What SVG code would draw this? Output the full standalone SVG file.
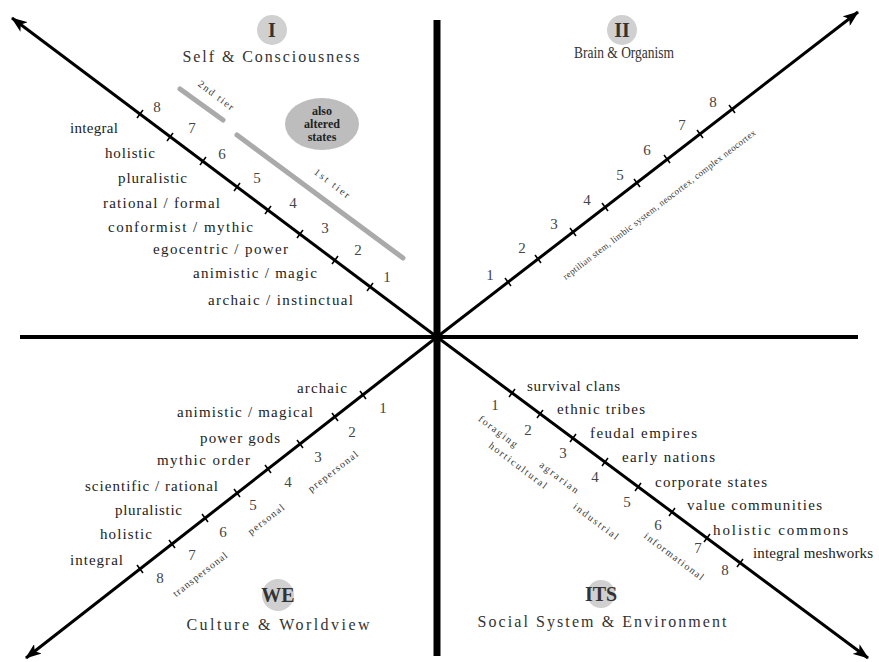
<svg xmlns="http://www.w3.org/2000/svg" width="879" height="662" viewBox="0 0 879 662">
<defs>
<marker id="arr" viewBox="0 0 16 12" refX="15" refY="6" markerWidth="16" markerHeight="12" markerUnits="userSpaceOnUse" orient="auto">
<path d="M0,0 L16,6 L0,12 L4,6 z" fill="#000"/>
</marker>
<style>
.lbl{font-family:"Liberation Serif","Times New Roman",serif;font-size:15px;fill:#222}
.end{text-anchor:end}
.num{font-family:"Liberation Serif","Times New Roman",serif;font-size:15px;fill:#444;text-anchor:middle}
.rot{font-family:"Liberation Serif","Times New Roman",serif;font-size:10px;fill:#333;text-anchor:middle}
.hdr{font-family:"Liberation Serif","Times New Roman",serif;font-size:16px;fill:#333;text-anchor:middle}
.rn{font-family:"Liberation Serif","Times New Roman",serif;font-size:20px;font-weight:bold;fill:#333;text-anchor:middle}
.halo{fill:#d0d0d0}
.diag{stroke:#000;stroke-width:3;fill:none;marker-end:url(#arr)}
.tick{stroke:#000;stroke-width:1.5}
.bar{stroke:#aaa;stroke-width:5;stroke-linecap:round}
</style>
</defs>
<rect width="879" height="662" fill="#fff"/>

<g id="connectors">
<line x1="437" y1="20" x2="437" y2="656" stroke="#000" stroke-width="7"/>
<line x1="20" y1="337" x2="858" y2="337" stroke="#000" stroke-width="4"/>
<line class="diag" x1="437" y1="337" x2="12" y2="18"/>
<line class="diag" x1="437" y1="337" x2="858" y2="12"/>
<line class="diag" x1="437" y1="337" x2="26" y2="658"/>
<line class="diag" x1="437" y1="337" x2="868" y2="658"/>
<g id="ticks">
<line class="tick" x1="137" y1="118" x2="143" y2="110"/>
<line class="tick" x1="167" y1="141" x2="173" y2="133"/>
<line class="tick" x1="200" y1="165" x2="206" y2="157"/>
<line class="tick" x1="234" y1="191" x2="240" y2="183"/>
<line class="tick" x1="265" y1="214" x2="271" y2="206"/>
<line class="tick" x1="297" y1="238" x2="303" y2="230"/>
<line class="tick" x1="332" y1="264" x2="338" y2="256"/>
<line class="tick" x1="367" y1="291" x2="373" y2="283"/>
<line class="tick" x1="505" y1="278" x2="511" y2="286"/>
<line class="tick" x1="535" y1="255" x2="541" y2="263"/>
<line class="tick" x1="570" y1="228" x2="576" y2="236"/>
<line class="tick" x1="602" y1="203" x2="608" y2="211"/>
<line class="tick" x1="634" y1="179" x2="640" y2="187"/>
<line class="tick" x1="664" y1="155" x2="670" y2="163"/>
<line class="tick" x1="697" y1="130" x2="703" y2="138"/>
<line class="tick" x1="729" y1="105" x2="735" y2="113"/>
<line class="tick" x1="360" y1="391" x2="366" y2="399"/>
<line class="tick" x1="332" y1="413" x2="338" y2="421"/>
<line class="tick" x1="297" y1="440" x2="303" y2="448"/>
<line class="tick" x1="265" y1="465" x2="271" y2="473"/>
<line class="tick" x1="234" y1="489" x2="240" y2="497"/>
<line class="tick" x1="202" y1="514" x2="208" y2="522"/>
<line class="tick" x1="169" y1="540" x2="175" y2="548"/>
<line class="tick" x1="137" y1="565" x2="143" y2="573"/>
<line class="tick" x1="509" y1="397" x2="515" y2="389"/>
<line class="tick" x1="537" y1="418" x2="543" y2="410"/>
<line class="tick" x1="570" y1="442" x2="576" y2="434"/>
<line class="tick" x1="602" y1="466" x2="608" y2="458"/>
<line class="tick" x1="635" y1="491" x2="641" y2="483"/>
<line class="tick" x1="669" y1="516" x2="675" y2="508"/>
<line class="tick" x1="704" y1="542" x2="710" y2="534"/>
<line class="tick" x1="737" y1="567" x2="743" y2="559"/>
</g>
</g>

<g id="q1-header">
<circle class="halo" cx="272" cy="30" r="15"/>
<text class="rn" x="272" y="37">I</text>
<text class="hdr" x="271" y="62" textLength="177" lengthAdjust="spacing">Self &amp; Consciousness</text>
</g>
<g id="q2-header">
<circle class="halo" cx="622" cy="30" r="15"/>
<text class="rn" x="622" y="37">II</text>
<text class="hdr" x="624" y="58" textLength="100" lengthAdjust="spacingAndGlyphs">Brain &amp; Organism</text>
</g>
<g id="q3-header">
<circle class="halo" cx="278" cy="595" r="16"/>
<text class="rn" x="278" y="602">WE</text>
<text class="hdr" x="278" y="630" textLength="183" lengthAdjust="spacing">Culture &amp; Worldview</text>
</g>
<g id="q4-header">
<circle class="halo" cx="601" cy="594" r="14"/>
<text class="rn" x="601" y="601">ITS</text>
<text class="hdr" x="602" y="627" textLength="249" lengthAdjust="spacing">Social System &amp; Environment</text>
</g>

<g id="altered-states">
<ellipse cx="322" cy="124" rx="37" ry="26" fill="#bdbdbd"/>
<text class="lbl" style="font-size:12px;font-weight:bold;text-anchor:middle" x="322" y="115">also</text>
<text class="lbl" style="font-size:12px;font-weight:bold;text-anchor:middle" x="322" y="128">altered</text>
<text class="lbl" style="font-size:12px;font-weight:bold;text-anchor:middle" x="322" y="141">states</text>
</g>

<g id="tiers">
<line class="bar" x1="180" y1="89" x2="223" y2="120"/>
<line class="bar" x1="237" y1="135" x2="403" y2="258"/>
<text class="rot" transform="translate(214,98) rotate(37)" textLength="42" lengthAdjust="spacing">2nd tier</text>
<text class="rot" transform="translate(330,186) rotate(37)" textLength="42" lengthAdjust="spacing">1st tier</text>
</g>

<g id="q1-numbers">
<text class="num" x="157" y="112">8</text>
<text class="num" x="192" y="133">7</text>
<text class="num" x="222" y="159">6</text>
<text class="num" x="257" y="183">5</text>
<text class="num" x="293" y="208">4</text>
<text class="num" x="325" y="233">3</text>
<text class="num" x="358" y="255">2</text>
<text class="num" x="387" y="282">1</text>
</g>
<g id="q1-labels">
<text class="lbl end" x="118" y="133" textLength="48" lengthAdjust="spacing">integral</text>
<text class="lbl end" x="155" y="158" textLength="50" lengthAdjust="spacing">holistic</text>
<text class="lbl end" x="187" y="183" textLength="69" lengthAdjust="spacing">pluralistic</text>
<text class="lbl end" x="220" y="208" textLength="117" lengthAdjust="spacing">rational / formal</text>
<text class="lbl end" x="253" y="232" textLength="145" lengthAdjust="spacing">conformist / mythic</text>
<text class="lbl end" x="288" y="254" textLength="135" lengthAdjust="spacing">egocentric / power</text>
<text class="lbl end" x="317" y="278" textLength="124" lengthAdjust="spacing">animistic / magic</text>
<text class="lbl end" x="353" y="305" textLength="145" lengthAdjust="spacing">archaic / instinctual</text>
</g>

<g id="q2-numbers">
<text class="num" x="490" y="280">1</text>
<text class="num" x="522" y="253">2</text>
<text class="num" x="554" y="229">3</text>
<text class="num" x="587" y="205">4</text>
<text class="num" x="620" y="180">5</text>
<text class="num" x="647" y="155">6</text>
<text class="num" x="682" y="130">7</text>
<text class="num" x="713" y="107">8</text>
</g>
<g id="q2-label">
<text class="rot" style="font-size:9px" transform="translate(661,207) rotate(-37.5)" textLength="240" lengthAdjust="spacing">reptilian stem, limbic system, neocortex, complex neocortex</text>
</g>

<g id="q3-numbers">
<text class="num" x="383" y="413">1</text>
<text class="num" x="352" y="437">2</text>
<text class="num" x="318" y="462">3</text>
<text class="num" x="288" y="487">4</text>
<text class="num" x="253" y="510">5</text>
<text class="num" x="223" y="537">6</text>
<text class="num" x="192" y="560">7</text>
<text class="num" x="160" y="583">8</text>
</g>
<g id="q3-labels">
<text class="lbl end" x="347" y="393" textLength="50" lengthAdjust="spacing">archaic</text>
<text class="lbl end" x="313" y="417" textLength="136" lengthAdjust="spacing">animistic / magical</text>
<text class="lbl end" x="280" y="443" textLength="80" lengthAdjust="spacing">power gods</text>
<text class="lbl end" x="250" y="465" textLength="93" lengthAdjust="spacing">mythic order</text>
<text class="lbl end" x="218" y="491" textLength="133" lengthAdjust="spacing">scientific / rational</text>
<text class="lbl end" x="182" y="515" textLength="67" lengthAdjust="spacing">pluralistic</text>
<text class="lbl end" x="152" y="539" textLength="52" lengthAdjust="spacing">holistic</text>
<text class="lbl end" x="123" y="565" textLength="53" lengthAdjust="spacing">integral</text>
<text class="rot" transform="translate(335,474) rotate(-38)" textLength="60" lengthAdjust="spacing">prepersonal</text>
<text class="rot" transform="translate(268,522) rotate(-38)" textLength="43" lengthAdjust="spacing">personal</text>
<text class="rot" transform="translate(202,577) rotate(-38)" textLength="66" lengthAdjust="spacing">transpersonal</text>
</g>

<g id="q4-numbers">
<text class="num" x="495" y="410">1</text>
<text class="num" x="528" y="435">2</text>
<text class="num" x="563" y="458">3</text>
<text class="num" x="595" y="482">4</text>
<text class="num" x="627" y="507">5</text>
<text class="num" x="658" y="530">6</text>
<text class="num" x="698" y="553">7</text>
<text class="num" x="725" y="575">8</text>
</g>
<g id="q4-labels">
<text class="lbl" x="527" y="391" textLength="93" lengthAdjust="spacing">survival clans</text>
<text class="lbl" x="557" y="414" textLength="88" lengthAdjust="spacing">ethnic tribes</text>
<text class="lbl" x="590" y="438" textLength="107" lengthAdjust="spacing">feudal empires</text>
<text class="lbl" x="622" y="462" textLength="93" lengthAdjust="spacing">early nations</text>
<text class="lbl" x="655" y="487" textLength="112" lengthAdjust="spacing">corporate states</text>
<text class="lbl" x="687" y="510" textLength="135" lengthAdjust="spacing">value communities</text>
<text class="lbl" x="713" y="535" textLength="135" lengthAdjust="spacing">holistic commons</text>
<text class="lbl" x="753" y="558" textLength="120" lengthAdjust="spacing">integral meshworks</text>
<text class="rot" transform="translate(496,434) rotate(37)" textLength="46" lengthAdjust="spacing">foraging</text>
<text class="rot" transform="translate(516,468) rotate(37)" textLength="70" lengthAdjust="spacing">horticultural</text>
<text class="rot" transform="translate(557,480) rotate(37)" textLength="46" lengthAdjust="spacing">agrarian</text>
<text class="rot" transform="translate(594,524) rotate(37)" textLength="54" lengthAdjust="spacing">industrial</text>
<text class="rot" transform="translate(672,559) rotate(37)" textLength="72" lengthAdjust="spacing">informational</text>
</g>
</svg>
